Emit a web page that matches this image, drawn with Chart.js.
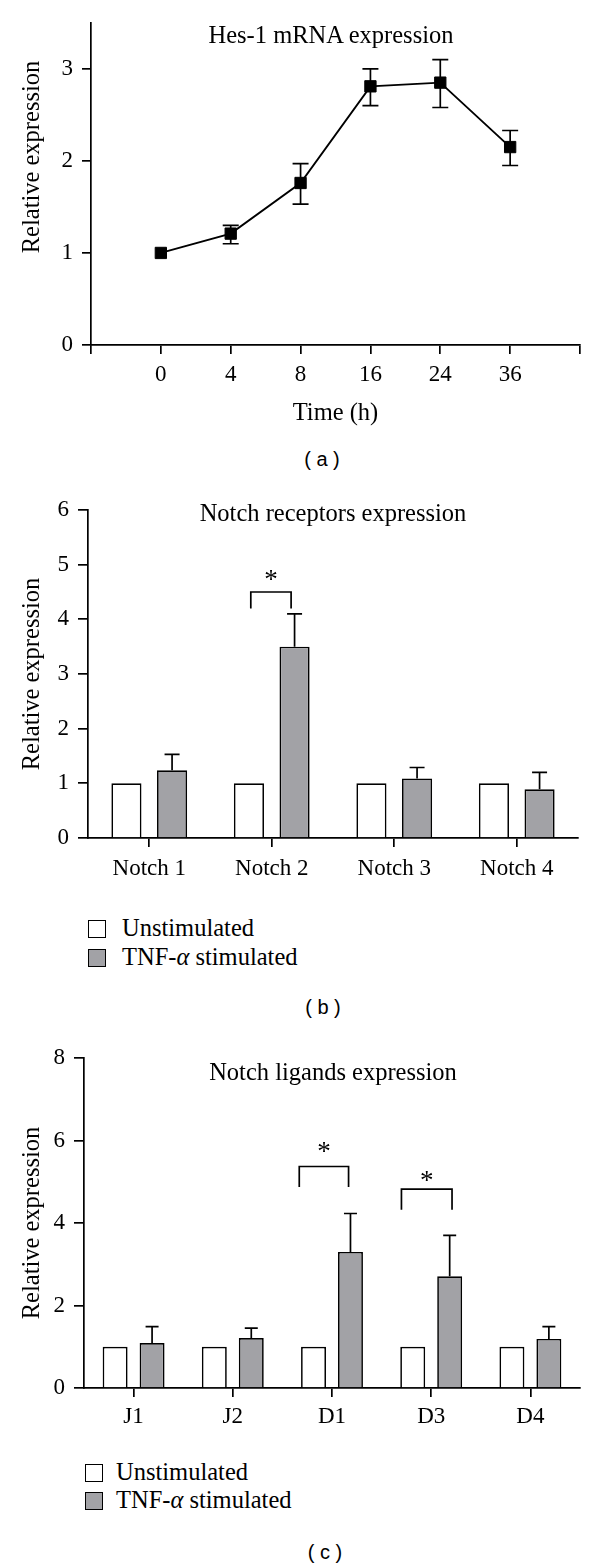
<!DOCTYPE html>
<html><head><meta charset="utf-8">
<script src="https://cdn.jsdelivr.net/npm/chart.js@4/dist/chart.umd.min.js"></script>
<style>
html,body{margin:0;padding:0;background:#fff;}
#page{position:relative;width:600px;height:1566px;overflow:hidden;font-family:'Liberation Serif',serif;color:#000;}
canvas{position:absolute;left:0;}
.t{position:absolute;white-space:nowrap;font-size:24.5px;line-height:30px;}
.ctr{transform:translateX(-50%);}
.lab{position:absolute;font-family:'Liberation Sans',Arial,sans-serif;font-size:20px;line-height:24px;transform:translateX(-50%);white-space:pre;}
.box{position:absolute;width:18px;height:18px;box-sizing:border-box;border:1.5px solid #000;}
</style></head>
<body><div id="page">
<canvas id="ca" width="600" height="445" style="top:0px"></canvas>
<canvas id="cb" width="600" height="408" style="top:480px"></canvas>
<canvas id="cc" width="600" height="408" style="top:1030px"></canvas>

<div class="t ctr" style="left:331px;top:20px">Hes-1 mRNA expression</div>
<div class="lab" style="left:322px;top:447px">( a )</div>

<div class="t ctr" style="left:333px;top:498px">Notch receptors expression</div>
<div class="box" style="left:88px;top:920px;background:#fff"></div>
<div class="t" style="left:122px;top:913px">Unstimulated</div>
<div class="box" style="left:88px;top:949px;background:#a2a2a6"></div>
<div class="t" style="left:122px;top:942px">TNF-<i>α</i> stimulated</div>
<div class="lab" style="left:323px;top:995px">( b )</div>

<div class="t ctr" style="left:333px;top:1057px">Notch ligands expression</div>
<div class="box" style="left:85px;top:1464px;background:#fff"></div>
<div class="t" style="left:116px;top:1457px">Unstimulated</div>
<div class="box" style="left:85px;top:1492px;background:#a2a2a6"></div>
<div class="t" style="left:116px;top:1485px">TNF-<i>α</i> stimulated</div>
<div class="lab" style="left:325px;top:1540px">( c )</div>
</div>
<script>
// ---- Data ----
const timeLabels = ['0', '4', '8', '16', '24', '36'];
const hesMean = [1.0, 1.21, 1.76, 2.81, 2.85, 2.15];
const hesLow  = [1.0, 1.10, 1.53, 2.60, 2.58, 1.95];
const hesHigh = [1.0, 1.30, 1.97, 3.00, 3.10, 2.33];

const receptorLabels = ['Notch 1', 'Notch 2', 'Notch 3', 'Notch 4'];
const recUnstim = [1, 1, 1, 1];
const recTnf = [1.24, 3.50, 1.09, 0.89];
const recTnfHigh = [1.53, 4.10, 1.29, 1.20];
const recSig = [{cat: 1, top: 4.5, bottom: 4.2, star: 4.8}];

const ligandLabels = ['J1', 'J2', 'D1', 'D3', 'D4'];
const ligUnstim = [1, 1, 1, 1, 1];
const ligTnf = [1.09, 1.21, 3.30, 2.71, 1.19];
const ligTnfHigh = [1.49, 1.45, 4.23, 3.70, 1.49];
const ligSig = [{cat: 2, top: 5.37, bottom: 4.87, star: 5.84}, {cat: 3, top: 4.82, bottom: 4.32, star: 5.13}];

const seriesNames = ['Unstimulated', 'TNF-\u03b1 stimulated'];

// ---- Styling ----
const FONT = 'Liberation Serif';
const GRAY = '#a2a2a6';
const TICK = 23, TITLE = 24.5;
Chart.defaults.font.family = FONT;
Chart.defaults.color = '#000';
Chart.defaults.devicePixelRatio = 1;

function makeAnnot(cfg) {
  return {
    id: 'annot' + Math.random().toString(36).slice(2),
    afterDatasetsDraw(chart) {
      const ctx = chart.ctx, xs = chart.scales.x, ys = chart.scales.y;
      ctx.save();
      ctx.strokeStyle = '#000'; ctx.fillStyle = '#000'; ctx.lineWidth = 1.7;
      if (cfg.errors) {
        const e = cfg.errors;
        chart.getDatasetMeta(e.dataset).data.forEach((el, i) => {
          const x = el.x;
          const yh = ys.getPixelForValue(e.high[i]);
          const yl = e.low ? ys.getPixelForValue(e.low[i]) : el.y;
          if (Math.abs(yl - yh) < 1) return;
          ctx.beginPath();
          ctx.moveTo(x, yl); ctx.lineTo(x, yh);
          ctx.moveTo(x - e.cap, yh); ctx.lineTo(x + e.cap, yh);
          if (e.low) { ctx.moveTo(x - e.cap, yl); ctx.lineTo(x + e.cap, yl); }
          ctx.stroke();
        });
      }
      if (cfg.brackets) {
        const cw = xs.getPixelForValue(1) - xs.getPixelForValue(0);
        cfg.brackets.forEach((b, k) => {
          const off = cfg.bracketOffsets[k];
          const c = xs.getPixelForValue(b.cat);
          const l = c + off[0] * cw, r = c + off[1] * cw;
          const yt = ys.getPixelForValue(b.top), yb = ys.getPixelForValue(b.bottom);
          ctx.beginPath();
          ctx.moveTo(l, yb); ctx.lineTo(l, yt); ctx.lineTo(r, yt); ctx.lineTo(r, yb);
          ctx.stroke();
          ctx.font = '27px ' + FONT;
          const m = ctx.measureText('*');
          const ys2 = ys.getPixelForValue(b.star);
          ctx.textAlign = 'center'; ctx.textBaseline = 'alphabetic';
          const base = ys2 + (m.actualBoundingBoxAscent - m.actualBoundingBoxDescent) / 2;
          ctx.fillText('*', (l + r) / 2, base);
        });
      }
      if (cfg.yTitle) {
        ctx.translate(cfg.yTitle.x, cfg.yTitle.y);
        ctx.rotate(-Math.PI / 2);
        ctx.font = TITLE + 'px ' + FONT;
        ctx.textAlign = 'center'; ctx.textBaseline = 'middle';
        ctx.fillText(cfg.yTitle.text, 0, 0);
      }
      ctx.restore();
    }
  };
}

const axisLine = {display: true, color: '#000', width: 1.7};
function gridOpts(len) {
  return {display: true, drawOnChartArea: false, drawTicks: true, tickLength: len,
          color: '#000', tickColor: '#000', lineWidth: 1.7, tickWidth: 1.7, offset: false};
}

// ---- Panel a ----
new Chart(document.getElementById('ca'), {
  type: 'line',
  data: {
    datasets: [{
      data: hesMean.map((v, i) => ({x: i, y: v})),
      borderColor: '#000', borderWidth: 1.9, tension: 0,
      pointStyle: 'rect', pointRadius: 8, pointBackgroundColor: '#000',
      pointBorderColor: '#000', pointBorderWidth: 1
    }]
  },
  options: {
    responsive: false, animation: false, events: [],
    layout: {padding: {left: 0, top: 20, right: 20, bottom: 0}, autoPadding: false},
    plugins: {legend: {display: false}, tooltip: {enabled: false}},
    scales: {
      x: {
        type: 'linear', min: -1, max: 6,
        border: axisLine, grid: gridOpts(9),
        ticks: {stepSize: 1, padding: 7, font: {size: TICK}, maxRotation: 0,
                callback: v => (Number.isInteger(v) && v >= 0 && v < timeLabels.length) ? timeLabels[v] : ''},
        title: {display: true, text: 'Time (h)', font: {size: TITLE}, padding: {top: 0, bottom: 17}},
        afterFit: s => { s.height = 100; }
      },
      y: {
        min: 0, max: 3.5,
        border: axisLine, grid: gridOpts(9),
        ticks: {stepSize: 1, padding: 9, font: {size: TICK}},
        afterBuildTicks: s => { s.ticks = s.ticks.filter(t => Number.isInteger(t.value)); },
        afterFit: s => { s.width = 91; }
      }
    }
  },
  plugins: [makeAnnot({
    errors: {dataset: 0, low: hesLow, high: hesHigh, cap: 8},
    yTitle: {text: 'Relative expression', x: 33, y: 157}
  })]
});

// ---- Bar panels ----
function barChart(id, labels, unstim, tnf, high, sig, offsets, opt) {
  new Chart(document.getElementById(id), {
    type: 'bar',
    data: {
      labels: labels,
      datasets: [
        {label: seriesNames[0], data: unstim, backgroundColor: '#fff', borderColor: '#000', borderWidth: 1.7,
         categoryPercentage: 0.745, barPercentage: opt.barPct},
        {label: seriesNames[1], data: tnf, backgroundColor: GRAY, borderColor: '#000', borderWidth: 1.7,
         categoryPercentage: 0.745, barPercentage: opt.barPct}
      ]
    },
    options: {
      responsive: false, animation: false, events: [],
      layout: {padding: {left: 0, top: opt.top, right: opt.right, bottom: 0}, autoPadding: false},
      plugins: {legend: {display: false}, tooltip: {enabled: false}},
      scales: {
        x: {
          border: axisLine, grid: gridOpts(9),
          ticks: {padding: opt.xPad, font: {size: TICK}, maxRotation: 0},
          afterFit: s => { s.height = 50; }
        },
        y: {
          min: 0, max: opt.max,
          border: axisLine, grid: gridOpts(10),
          ticks: {stepSize: opt.step, padding: 9, font: {size: TICK}},
          title: {display: true, text: 'Relative expression', font: {size: TITLE}, padding: {top: 18, bottom: 0}},
          afterFit: s => { s.width = opt.axisX; }
        }
      }
    },
    plugins: [makeAnnot({
      errors: {dataset: 1, high: high, cap: opt.cap},
      brackets: sig, bracketOffsets: offsets
    })]
  });
}

barChart('cb', receptorLabels, recUnstim, recTnf, recTnfHigh, recSig, [[-0.171, 0.158]],
  {barPct: 0.66, top: 30, right: 22, max: 6, step: 1, axisX: 88, cap: 7.5, xPad: 8});
barChart('cc', ligandLabels, ligUnstim, ligTnf, ligTnfHigh, ligSig, [[-0.33, 0.167], [-0.30, 0.21]],
  {barPct: 0.675, top: 28, right: 20, max: 8, step: 2, axisX: 84, cap: 6.5, xPad: 6});
</script>
</body></html>
